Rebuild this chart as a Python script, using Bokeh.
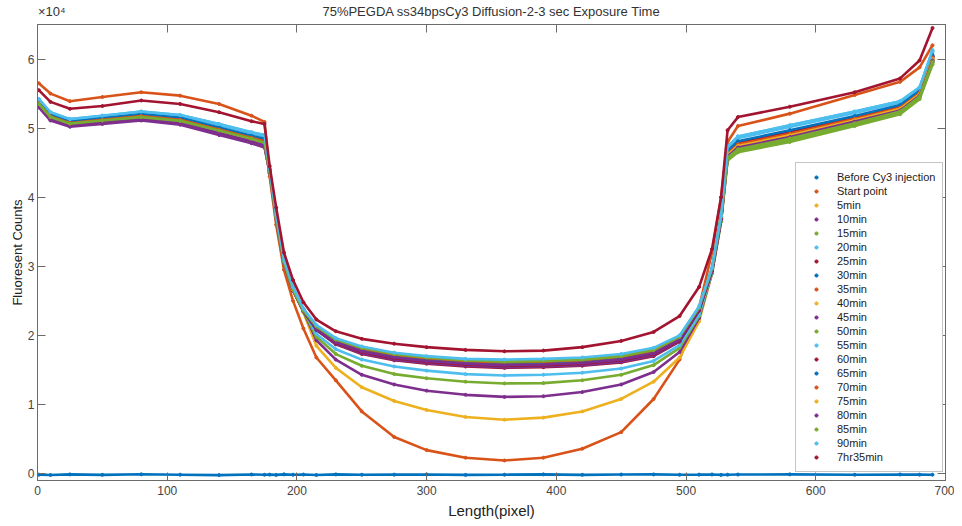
from bokeh.plotting import figure
from bokeh.models import FixedTicker, LinearAxis, Legend, LegendItem, Range1d
from bokeh.embed import file_html
from bokeh.resources import INLINE

# sampled pixel positions along the channel
X = [1, 10, 25, 50, 80, 110, 140, 165, 175, 179, 184, 190, 197, 205, 215, 230, 250, 275,
     300, 330, 360, 390, 420, 450, 475, 495, 510, 520, 527, 532, 540, 580, 630, 665, 680, 690]

before = [-150, -200, -120, -180, -100, -160, -220, -130, -170, -150, -190, -110, -160, -140, -200, -120, -170, -150,
          -130, -190, -160, -110, -180, -140, -120, -170, -150, -130, -180, -160, -140, -110, -170, -130, -150, -160]
start = [56500, 55000, 53900, 54500, 55200, 54700, 53500, 51800, 50900, 43000, 36000, 29500, 25000, 21000, 16800, 13500, 9000, 5300,
         3400, 2300, 1900, 2300, 3600, 6000, 10800, 16500, 24000, 32000, 40000, 48000, 50300, 52100, 54800, 56700, 58800, 62000]
m5 = [53200, 51300, 50500, 50900, 51400, 50800, 49300, 48000, 47500, 43500, 37000, 30500, 26500, 23300, 18500, 15300, 12500, 10500,
      9200, 8200, 7800, 8100, 9000, 10800, 13300, 16800, 22000, 29000, 36500, 45800, 47000, 48600, 50800, 52500, 54800, 59800]
m10 = [53000, 51100, 50200, 50600, 51100, 50500, 49000, 47800, 47200, 43500, 37000, 30500, 26500, 23500, 19300, 16500, 14300, 12900,
       12000, 11400, 11100, 11200, 11800, 12900, 14700, 17600, 22500, 29000, 36500, 45500, 46700, 48200, 50500, 52300, 54600, 59600]
m15 = [53300, 51400, 50500, 50900, 51400, 50900, 49400, 48100, 47600, 43500, 37000, 30500, 26500, 23500, 19800, 17300, 15600, 14400,
       13800, 13300, 13050, 13100, 13500, 14300, 15700, 18200, 22800, 29000, 36500, 45300, 46500, 48000, 50300, 52000, 54200, 59200]
m20 = [54200, 52300, 51300, 51800, 52400, 51900, 50600, 49400, 49000, 44000, 37500, 31000, 27000, 23800, 20200, 18000, 16500, 15500,
       14900, 14400, 14200, 14300, 14600, 15200, 16300, 18600, 23000, 29200, 36800, 47300, 48800, 50400, 52400, 53900, 55900, 61200]
m25 = [53600, 51700, 50750, 51200, 51750, 51200, 49800, 48600, 48100, 43800, 37200, 30700, 26700, 23600, 20800, 18700, 17300, 16400,
       15900, 15500, 15300, 15400, 15600, 16100, 17000, 19100, 23600, 29400, 36900, 46300, 47650, 49200, 51350, 52950, 55050, 60200]
m30 = [53700, 51800, 50850, 51300, 51900, 51350, 49950, 48750, 48300, 43700, 37100, 30600, 26600, 23600, 20900, 18800, 17500, 16600,
       16100, 15700, 15500, 15600, 15800, 16300, 17200, 19200, 23700, 29400, 36900, 46500, 47900, 49450, 51550, 53150, 55200, 60400]
m35 = [53650, 51750, 50800, 51250, 51800, 51250, 49850, 48650, 48150, 43800, 37200, 30700, 26700, 23700, 21000, 19000, 17700, 16800,
       16300, 15900, 15700, 15800, 16000, 16500, 17400, 19400, 23800, 29500, 37000, 46100, 47400, 48950, 51150, 52750, 54900, 60000]
m40 = [53350, 51450, 50550, 50950, 51500, 50900, 49450, 48300, 47750, 43600, 37100, 30600, 26600, 23600, 21100, 19100, 17800, 16900,
       16400, 16000, 15800, 15900, 16100, 16600, 17500, 19500, 23800, 29500, 37000, 45900, 47200, 48700, 50950, 52550, 54700, 59800]
m45 = [53250, 51350, 50400, 50850, 51350, 50800, 49300, 48100, 47550, 43500, 37000, 30500, 26500, 23500, 20800, 18800, 17400, 16500,
       16000, 15600, 15400, 15500, 15700, 16200, 17100, 19200, 23600, 29300, 36800, 45700, 46950, 48500, 50700, 52400, 54550, 59600]
m50 = [53500, 51600, 50650, 51100, 51600, 51050, 49650, 48450, 47900, 43600, 37100, 30600, 26600, 23600, 21200, 19200, 17900, 17000,
       16500, 16100, 15900, 16000, 16200, 16700, 17600, 19600, 23900, 29600, 37100, 45500, 46750, 48250, 50500, 52200, 54350, 59400]
m55 = [54100, 52200, 51200, 51700, 52250, 51750, 50450, 49250, 48800, 44000, 37400, 30900, 26900, 23800, 21400, 19500, 18200, 17300,
       16800, 16400, 16200, 16300, 16500, 17000, 17900, 19800, 24000, 29700, 37200, 47100, 48550, 50150, 52200, 53700, 55700, 61000]
m60 = [53750, 51850, 50900, 51350, 51900, 51400, 49950, 48800, 48300, 43800, 37200, 30700, 26700, 23700, 21000, 18900, 17600, 16700,
       16200, 15800, 15600, 15700, 15900, 16400, 17300, 19300, 23700, 29400, 36900, 46500, 47900, 49450, 51550, 53150, 55200, 60400]
m65 = [53850, 51950, 51000, 51450, 52000, 51500, 50100, 48900, 48450, 43900, 37300, 30800, 26800, 23700, 21200, 19300, 18000, 17100,
       16600, 16200, 16000, 16100, 16300, 16800, 17700, 19700, 24000, 29600, 37100, 46700, 48100, 49700, 51750, 53350, 55400, 60600]
m70 = [53600, 51700, 50750, 51200, 51750, 51200, 49800, 48600, 48100, 43800, 37200, 30700, 26700, 23700, 21300, 19400, 18100, 17200,
       16700, 16300, 16100, 16200, 16400, 16900, 17800, 19700, 24000, 29600, 37100, 46300, 47650, 49200, 51350, 52950, 55050, 60200]
m75 = [53350, 51450, 50550, 50950, 51500, 50900, 49450, 48300, 47750, 43700, 37100, 30600, 26600, 23600, 21400, 19500, 18300, 17400,
       16900, 16500, 16300, 16400, 16600, 17100, 18000, 19900, 24100, 29700, 37200, 46100, 47400, 48950, 51150, 52750, 54900, 60000]
m80 = [53250, 51350, 50400, 50850, 51350, 50800, 49300, 48100, 47550, 43600, 37000, 30500, 26500, 23500, 21000, 19000, 17700, 16800,
       16300, 15900, 15700, 15800, 16000, 16500, 17400, 19400, 23800, 29500, 37000, 45900, 47200, 48700, 50950, 52550, 54700, 59800]
m85 = [53500, 51600, 50650, 51100, 51600, 51050, 49650, 48450, 47900, 43700, 37100, 30600, 26600, 23600, 21300, 19400, 18200, 17300,
       16800, 16400, 16200, 16300, 16500, 17000, 17900, 19800, 24000, 29700, 37200, 45700, 46950, 48500, 50700, 52400, 54550, 59600]
m90 = [54200, 52300, 51300, 51800, 52400, 51900, 50600, 49400, 49000, 44100, 37500, 31000, 27000, 23900, 21500, 19600, 18400, 17500,
       17000, 16600, 16500, 16600, 16800, 17300, 18200, 20000, 24200, 29800, 37300, 47300, 48800, 50400, 52400, 53900, 55900, 61300]
h7m35 = [55500, 53800, 52800, 53200, 54000, 53500, 52300, 51000, 50600, 44500, 38500, 32000, 28000, 24800, 22300, 20600, 19500, 18800,
         18300, 17900, 17700, 17800, 18300, 19200, 20500, 22800, 27000, 32500, 40000, 49700, 51600, 53100, 55200, 57200, 59800, 64500]

labels = ["Before Cy3 injection", "Start point", "5min", "10min", "15min", "20min", "25min", "30min", "35min",
          "40min", "45min", "50min", "55min", "60min", "65min", "70min", "75min", "80min", "85min", "90min", "7hr35min"]
series = [before, start, m5, m10, m15, m20, m25, m30, m35, m40, m45, m50, m55, m60, m65, m70, m75, m80, m85, m90, h7m35]
palette = ["#0072BD", "#D95319", "#EDB120", "#7E2F8E", "#77AC30", "#4DBEEE", "#A2142F"]

TITLE = "75%PEGDA ss34bpsCy3 Diffusion-2-3 sec Exposure Time"
EXPONENT = "×10⁴"
x_ticks = [0, 100, 200, 300, 400, 500, 600, 700]
y_ticks = [0, 10000, 20000, 30000, 40000, 50000, 60000]
y_tick_text = ["0", "1", "2", "3", "4", "5", "6"]

FONT = "Liberation Sans"
AX = "#6b6b6b"
TXT = "#444444"

p = figure(frame_width=908, frame_height=456, output_backend="svg", toolbar_location=None,
           x_range=Range1d(0, 700), y_range=Range1d(-1000, 65000), title=None,
           min_border_left=37, min_border_right=9, min_border_top=24, min_border_bottom=38)
p.xgrid.visible = False
p.ygrid.visible = False
p.outline_line_color = AX
p.background_fill_color = "white"
p.border_fill_color = "white"

def style_axis(ax, show_labels):
    ax.axis_line_color = AX
    ax.major_tick_line_color = AX
    ax.major_tick_in = 8
    ax.major_tick_out = 0
    ax.minor_tick_line_color = None
    ax.major_label_text_font = FONT
    ax.major_label_text_color = TXT
    if show_labels:
        ax.major_label_text_font_size = "12px"
    else:
        ax.major_label_text_color = None
        ax.major_label_text_font_size = "1px"
        ax.major_label_standoff = 0

xa = p.xaxis[0]
xa.ticker = FixedTicker(ticks=x_ticks)
style_axis(xa, True)
xa.major_label_standoff = 5
xa.axis_label = "Length(pixel)"
xa.axis_label_text_font = FONT
xa.axis_label_text_font_size = "15px"
xa.axis_label_text_font_style = "normal"
xa.axis_label_text_color = "#222222"
xa.axis_label_standoff = 4

ya = p.yaxis[0]
ya.ticker = FixedTicker(ticks=y_ticks)
ya.major_label_overrides = {t: s for t, s in zip(y_ticks, y_tick_text)}
style_axis(ya, True)
ya.major_label_standoff = 3
ya.axis_label = "Fluoresent Counts"
ya.axis_label_text_font = FONT
ya.axis_label_text_font_size = "13px"
ya.axis_label_text_font_style = "normal"
ya.axis_label_text_color = "#222222"
ya.axis_label_standoff = 0

# top axis: tick marks as minor ticks, the exponent and the title as its two labels
top = LinearAxis(ticker=FixedTicker(ticks=[11, 350], minor_ticks=x_ticks))
top.axis_line_color = AX
top.major_tick_line_color = None
top.minor_tick_line_color = AX
top.minor_tick_in = 8
top.minor_tick_out = 0
top.major_label_overrides = {11: EXPONENT, 350: TITLE}
top.major_label_text_font = FONT
top.major_label_text_font_size = "13px"
top.major_label_text_color = "#333333"
top.major_label_standoff = 0
p.add_layout(top, "above")

right = LinearAxis(ticker=FixedTicker(ticks=y_ticks))
style_axis(right, False)
p.add_layout(right, "right")

items = []
for i, (name, vals) in enumerate(zip(labels, series)):
    c = palette[i % len(palette)]
    p.line(X, vals, line_color=c, line_width=2.6)
    r = p.scatter(X, vals, marker="circle", size=3, fill_color=c, line_color=c)
    items.append(LegendItem(label=name, renderers=[r]))

legend = Legend(items=items, location=(758, 8))
legend.label_text_font = FONT
legend.label_text_font_size = "11px"
legend.label_text_color = "#222222"
legend.label_height = 14
legend.glyph_height = 8
legend.glyph_width = 26
legend.label_standoff = 8
legend.spacing = 0
legend.padding = 7
legend.margin = 0
legend.border_line_color = "#8a8a8a"
legend.border_line_width = 1
legend.background_fill_alpha = 1
p.add_layout(legend)

open("out.html", "w").write(file_html(p, INLINE))
